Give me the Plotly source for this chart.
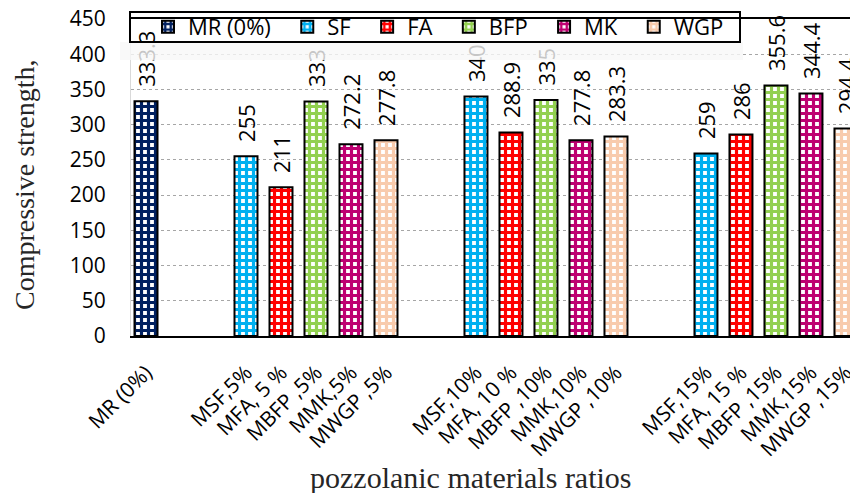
import plotly.graph_objects as go

# ---------------- data ----------------
series_names = ["MR (0%)", "SF", "FA", "BFP", "MK", "WGP"]
mr_values = [333.3]
sf_values = [255, 340, 259]
fa_values = [211, 288.9, 286]
bfp_values = [333, 335, 355.6]
mk_values = [272.2, 277.8, 344.4]
wgp_values = [277.8, 283.3, 294.4]

mr_tick = ["MR (0%)"]
ticks_5 = ["MSF,5%", "MFA, 5 %", "MBFP ,5%", "MMK,5%", "MWGP ,5%"]
ticks_10 = ["MSF,10%", "MFA, 10 %", "MBFP ,10%", "MMK,10%", "MWGP ,10%"]
ticks_15 = ["MSF,15%", "MFA, 15 %", "MBFP ,15%", "MMK,15%", "MWGP ,15%"]

y_title = "Compressive strength,"
x_title = "pozzolanic materials ratios"

# ---------------- layout helpers ----------------
FIRST_OFFSET = 2.857   # slots between MR bar and first group
GROUP_PERIOD = 6.571   # slots between groups
BAR_W = 0.657
LEGEND_PAD = "\u00a0" * 2

def pos(g, i):
    return FIRST_OFFSET + g * GROUP_PERIOD + i

colors = {
    "MR (0%)": "#002060",
    "SF": "#00B0F0",
    "FA": "#FF0000",
    "BFP": "#92D050",
    "MK": "#BE0071",
    "WGP": "#F8CBAD",
}

def fmt(v):
    return "\u00a0\u00a0" + f"{v:g}"

group_series = [sf_values, fa_values, bfp_values, mk_values, wgp_values]

fig = go.Figure()

def add_bar(name, xs, ys):
    c = colors[name]
    fig.add_trace(go.Bar(
        name=name + LEGEND_PAD, x=xs, y=ys, width=BAR_W,
        marker=dict(color=c,
                    line=dict(color="black", width=2),
                    pattern=dict(shape="+", fgcolor=c, bgcolor="white",
                                 size=7, solidity=0.7, fillmode="replace")),
        text=[fmt(v) for v in ys], textposition="outside", textangle=-90,
        textfont=dict(family="Open Sans", size=22, color="black"),
        constraintext="none", cliponaxis=False,
    ))

add_bar(series_names[0], [0], mr_values)
for si, vals in enumerate(group_series):
    add_bar(series_names[si + 1], [pos(g, si) for g in range(len(vals))], vals)

tickvals = [0] + [pos(g, i) for g in range(3) for i in range(5)]
ticktext = mr_tick + ticks_5 + ticks_10 + ticks_15

W, H = 850, 493
L, R, T, B = 131, 0, 19, 157
plot_w = W - L - R
plot_h = H - T - B

def px_x(px):
    return (px - L) / plot_w

def px_y(py):
    return (H - B - py) / plot_h

x_left = -15 / 35
x_right = x_left + plot_w / 35

fig.update_layout(
    width=W, height=H,
    margin=dict(l=L, r=R, t=T, b=B, autoexpand=False),
    paper_bgcolor="white", plot_bgcolor="white",
    barmode="overlay",
    showlegend=True,
    legend=dict(orientation="h", xref="paper", yref="paper",
                x=px_x(148), y=px_y(6), xanchor="left", yanchor="top",
                font=dict(family="Open Sans", size=22, color="black"),
                bgcolor="rgba(0,0,0,0)", borderwidth=0,
                itemwidth=30),
    xaxis=dict(range=[x_left, x_right], tickmode="array",
               tickvals=tickvals, ticktext=ticktext, tickangle=-45,
               tickfont=dict(family="Open Sans", size=21, color="black"),
               showline=True, linecolor="black", linewidth=2, mirror=True,
               showgrid=False, zeroline=False, ticks="",
               ticklabelstandoff=14, ticklabeloverflow="allow",
               automargin=False),
    yaxis=dict(range=[0, 450], tick0=0, dtick=50,
               tickfont=dict(family="Open Sans", size=21, color="black"),
               showgrid=True, gridcolor="#a6a6a6", griddash="dot", gridwidth=1,
               zeroline=False, showline=True, linecolor="#d9d9d9", linewidth=1,
               ticks="", ticklabelstandoff=20, automargin=False),
    shapes=[
        dict(type="rect", xref="paper", yref="paper",
             x0=px_x(120), x1=px_x(743), y0=px_y(60), y1=px_y(42),
             fillcolor="rgba(248,248,248,0.8)", line=dict(width=0),
             layer="above"),
        dict(type="rect", xref="paper", yref="paper",
             x0=px_x(130), x1=px_x(740), y0=px_y(42), y1=px_y(12),
             fillcolor="rgba(0,0,0,0)", line=dict(color="black", width=2),
             layer="above"),
    ],
    annotations=[
        dict(text=y_title, xref="paper", yref="paper",
             x=px_x(24), y=px_y(185), xanchor="center", yanchor="middle",
             textangle=-90, showarrow=False,
             font=dict(family="Liberation Serif", size=28, color="#262626")),
        dict(text=x_title, xref="paper", yref="paper",
             x=px_x(471), y=px_y(478), xanchor="center", yanchor="middle",
             showarrow=False,
             font=dict(family="Liberation Serif", size=30, color="#262626")),
    ],
)

fig.write_html("out.html")
